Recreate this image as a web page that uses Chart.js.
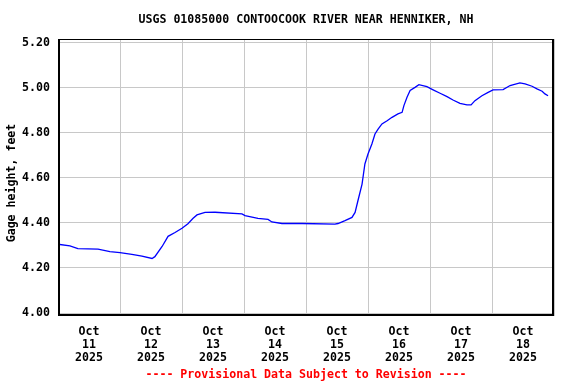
<!DOCTYPE html>
<html>
<head>
<meta charset="utf-8">
<script src="https://cdn.jsdelivr.net/npm/chart.js@4.4.0/dist/chart.umd.min.js"></script>
<style>
  html, body { margin: 0; padding: 0; background: #fff; }
</style>
</head>
<body>
<canvas id="gage-chart" width="576" height="384"></canvas>
<script>
// hours since Oct 11 2025 00:00
var hours = [
  0, 4.6, 7.7, 15.5, 20.1, 24, 28.6, 32.5, 36.4, 37.5, 40.3, 42.6, 45.3, 48,
  50.3, 52.3, 53.8, 56.9, 60.8, 71.2, 72.4, 77.4, 81.3, 82.8, 86.7, 94.5,
  107.2, 108.4, 111.1, 113.8, 115, 116.1, 117.7, 118.8, 120, 121.5, 122.7,
  123.9, 125.4, 127.4, 129.3, 131.6, 133.2, 133.9, 135.1, 136.3, 138.2, 139.7,
  142.8, 145.2, 147.9, 150.6, 152.9, 155.6, 158.3, 159.9, 161.4, 164.1, 166.5,
  168.4, 172.3, 175, 178.8, 180.8, 183.5, 185.4, 187.4, 188.5, 189.7
];
// gage height, feet
var gageFeet = [
  4.305, 4.298, 4.286, 4.283, 4.272, 4.268, 4.26, 4.252, 4.242, 4.25, 4.295,
  4.34, 4.357, 4.376, 4.396, 4.42, 4.435, 4.446, 4.447, 4.44, 4.432, 4.42,
  4.415, 4.404, 4.397, 4.397, 4.394, 4.397, 4.41, 4.424, 4.446, 4.498, 4.572,
  4.661, 4.705, 4.75, 4.794, 4.816, 4.839, 4.853, 4.868, 4.883, 4.89, 4.92,
  4.957, 4.987, 5.001, 5.013, 5.004, 4.99, 4.975, 4.96, 4.945, 4.93, 4.923,
  4.923, 4.942, 4.964, 4.979, 4.99, 4.991, 5.009, 5.021, 5.016, 5.006, 4.994,
  4.984, 4.972, 4.964
];
var dayLabels = ["11", "12", "13", "14", "15", "16", "17", "18"];
var yTicks = [4.0, 4.2, 4.4, 4.6, 4.8, 5.0, 5.2];

var monoFont = "'DejaVu Sans Mono', 'Liberation Mono', monospace";
var fontPx = 11.6;

var points = [];
for (var i = 0; i < hours.length; i++) {
  points.push({ x: hours[i], y: gageFeet[i] });
}

// title, axis label, footer and the black frame
var framePlugin = {
  id: "frame",
  afterDraw: function (chart) {
    var c = chart.ctx;
    var a = chart.chartArea;
    var mid = (a.left + a.right) / 2;
    c.save();
    c.textAlign = "center";
    c.textBaseline = "middle";
    c.font = "bold " + fontPx + "px " + monoFont;
    c.fillStyle = "#000";
    c.fillText("USGS 01085000 CONTOOCOOK RIVER NEAR HENNIKER, NH", mid, 20);

    c.fillStyle = "#ff0000";
    c.fillText("---- Provisional Data Subject to Revision ----", mid, 375);

    c.save();
    c.translate(12, 183);
    c.rotate(-Math.PI / 2);
    c.fillStyle = "#000";
    c.fillText("Gage height, feet", 0, 0);
    c.restore();

    c.strokeStyle = "#000";
    c.lineWidth = 1;
    c.strokeRect(a.left + 0.5, a.top + 0.5, a.right - a.left - 1, a.bottom - a.top - 1);
    c.lineWidth = 2;
    c.beginPath();
    c.moveTo(a.left + 1, a.top);
    c.lineTo(a.left + 1, a.bottom - 1);
    c.lineTo(a.right - 1, a.bottom - 1);
    c.lineTo(a.right - 1, a.top);
    c.stroke();
    c.restore();
  }
};

var gageChart = new Chart(document.getElementById("gage-chart").getContext("2d"), {
  type: "line",
  data: {
    datasets: [
      {
        label: "Gage height",
        data: points,
        borderColor: "#0000ff",
        borderWidth: 1.3,
        pointRadius: 0,
        tension: 0,
        fill: false,
      },
    ],
  },
  options: {
    responsive: false,
    animation: false,
    devicePixelRatio: 1,
    layout: { padding: { top: 39, right: 22, bottom: 0, left: 0 } },
    plugins: {
      legend: { display: false },
      tooltip: { enabled: false },
    },
    scales: {
      x: {
        type: "linear",
        min: 0,
        max: 192,
        afterFit: function (scale) {
          scale.height = 68;
        },
        afterBuildTicks: function (scale) {
          var t = [];
          for (var h = 0; h <= 192; h += 12) t.push({ value: h });
          scale.ticks = t;
        },
        border: { display: false },
        grid: {
          drawTicks: false,
          color: function (ctx) {
            return ctx.tick && ctx.tick.value % 24 === 0 ? "#c8c8c8" : "rgba(0,0,0,0)";
          },
        },
        ticks: {
          autoSkip: false,
          maxRotation: 0,
          padding: 9,
          color: "#000",
          font: { family: monoFont, size: fontPx, weight: "bold", lineHeight: 1.14 },
          callback: function (value) {
            if (value % 24 !== 12) return "";
            return ["Oct", dayLabels[(value - 12) / 24], "2025"];
          },
        },
      },
      y: {
        min: 3.9867,
        max: 5.2155,
        afterFit: function (scale) {
          scale.width = 58;
        },
        afterBuildTicks: function (scale) {
          scale.ticks = yTicks.map(function (v) {
            return { value: v };
          });
        },
        border: { display: false },
        grid: { drawTicks: false, color: "#c8c8c8" },
        ticks: {
          padding: 8,
          color: "#000",
          font: { family: monoFont, size: fontPx, weight: "bold" },
          callback: function (value) {
            return Number(value).toFixed(2);
          },
        },
      },
    },
  },
  plugins: [framePlugin],
});
</script>
</body>
</html>
